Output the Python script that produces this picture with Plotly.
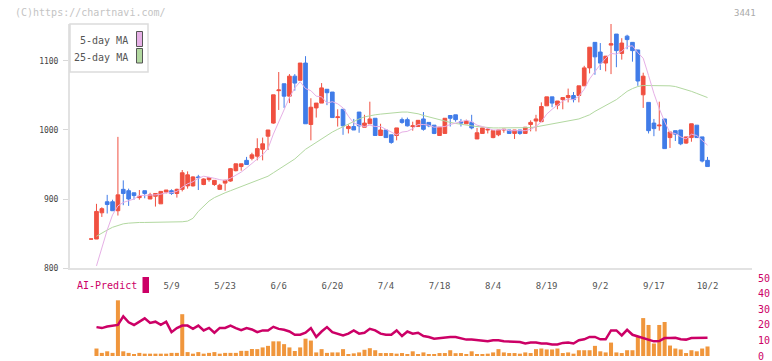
import plotly.graph_objects as go

# ---------------- data ----------------
tick_labels = ["5/9", "5/23", "6/6", "6/20", "7/4", "7/18", "8/4", "8/19", "9/2", "9/17", "10/2"]
tick_index = [15, 25, 35, 45, 55, 65, 75, 85, 95, 105, 115]

opens = [842, 842, 880, 896, 896, 883, 914, 912, 909, 902, 912, 900, 904, 893, 910, 912, 908, 914, 919, 919,
         932, 921, 928, 921, 914, 923, 926, 941, 947, 956, 959, 962, 972, 991, 1010, 1057, 1067, 1049, 1078, 1072,
         1097, 1008, 1032, 1039, 1059, 1055, 1018, 1030, 1002, 1005, 1026, 1004, 1009, 1017, 992, 1000, 993, 992, 1015, 1015,
         1005, 1005, 1016, 1011, 1007, 992, 995, 1021, 1022, 1012, 1009, 1011, 987, 995, 1000, 989, 993, 1000, 1000, 995,
         1000, 995, 1008, 1013, 1012, 1035, 1048, 1036, 1044, 1047, 1050, 1050, 1064, 1090, 1127, 1113, 1097, 1123, 1139, 1111,
         1136, 1127, 1116, 1051, 1040, 1010, 1006, 1016, 989, 999, 1000, 981, 989, 1007, 990, 956]
highs = [842, 893, 888, 906, 899, 990, 927, 915, 909, 913, 912, 909, 908, 911, 913, 914, 915, 942, 940, 933,
         935, 930, 932, 927, 922, 928, 945, 951, 951, 961, 967, 988, 989, 1000, 1051, 1084, 1067, 1081, 1081, 1097,
         1107, 1046, 1039, 1068, 1059, 1055, 1030, 1030, 1008, 1016, 1026, 1022, 1041, 1017, 1009, 1000, 993, 1003, 1018, 1018,
         1012, 1014, 1026, 1011, 1007, 1004, 1017, 1021, 1022, 1016, 1015, 1022, 1003, 1003, 1003, 999, 1000, 1001, 1000, 1000,
         1000, 1004, 1014, 1022, 1040, 1048, 1048, 1042, 1047, 1060, 1055, 1064, 1093, 1120, 1127, 1126, 1107, 1154, 1139, 1133,
         1138, 1127, 1116, 1083, 1040, 1016, 1041, 1016, 997, 999, 1000, 990, 1009, 1007, 990, 961]
lows = [842, 842, 874, 879, 883, 876, 891, 890, 899, 899, 901, 900, 889, 893, 908, 906, 902, 911, 915, 918,
        913, 920, 925, 919, 913, 912, 925, 940, 941, 950, 956, 956, 956, 971, 1009, 1029, 1032, 1039, 1057, 1072,
        1009, 985, 1018, 1039, 1036, 1018, 1005, 993, 995, 1000, 996, 1004, 1009, 992, 992, 989, 980, 985, 1009, 1005,
        999, 1005, 999, 1004, 994, 992, 995, 1005, 1012, 1005, 1009, 1001, 987, 995, 995, 988, 991, 996, 995, 987,
        993, 995, 998, 998, 1012, 1035, 1033, 1030, 1030, 1040, 1040, 1040, 1064, 1082, 1080, 1087, 1085, 1081, 1091, 1102,
        1117, 1099, 1064, 1032, 995, 991, 999, 973, 974, 984, 978, 980, 983, 989, 953, 947]
closes = [842, 882, 886, 892, 883, 906, 908, 900, 905, 904, 908, 906, 908, 911, 913, 908, 914, 938, 935, 932,
          931, 929, 931, 927, 920, 927, 944, 951, 951, 950, 964, 973, 980, 1000, 1051, 1058, 1049, 1078, 1068, 1097,
          1009, 1033, 1039, 1061, 1054, 1018, 1019, 1006, 1005, 1000, 1006, 1010, 1016, 992, 1000, 989, 982, 1003, 1011, 1006,
          1006, 1014, 1001, 1006, 995, 1004, 1017, 1017, 1015, 1010, 1013, 1003, 996, 1003, 1001, 999, 1000, 1001, 995, 1000,
          995, 1004, 1011, 1016, 1034, 1048, 1039, 1042, 1047, 1050, 1044, 1064, 1090, 1120, 1106, 1097, 1107, 1125, 1115, 1126,
          1131, 1115, 1071, 1078, 999, 1002, 1007, 973, 997, 994, 980, 990, 1009, 989, 955, 947]

ma5 = [None, 803, 831, 855, 877, 890, 895, 898, 900, 905, 905, 905, 906, 907, 909, 909, 911, 917, 922, 925,
       930, 933, 932, 930, 928, 927, 930, 934, 939, 945, 952, 958, 964, 973, 994, 1012, 1028, 1047, 1061, 1070,
       1060, 1057, 1049, 1048, 1039, 1041, 1038, 1032, 1020, 1010, 1007, 1005, 1007, 1005, 1005, 1001, 996, 993, 997, 998,
       1002, 1008, 1008, 1007, 1004, 1004, 1005, 1008, 1010, 1013, 1014, 1012, 1007, 1005, 1003, 1000, 1000, 1001, 999, 999,
       998, 999, 1001, 1005, 1012, 1023, 1030, 1036, 1042, 1045, 1044, 1049, 1059, 1074, 1085, 1095, 1104, 1111, 1110, 1114,
       1121, 1122, 1112, 1104, 1079, 1053, 1031, 1012, 996, 995, 990, 987, 994, 992, 985, 978]
ma25 = [None, 846, 851, 855, 859, 862, 864, 865, 866, 866, 866, 866, 866, 866, 866, 867, 867, 867, 868, 872,
        882, 890, 897, 902, 906, 909, 912, 915, 918, 921, 924, 926, 929, 933, 938, 943, 947, 952, 958, 965,
        972, 977, 982, 988, 993, 997, 1001, 1005, 1009, 1013, 1016, 1019, 1021, 1022, 1023, 1024, 1025, 1025.5, 1026, 1026,
        1025, 1023.5, 1021, 1019, 1016, 1014, 1012, 1011, 1009.5, 1008, 1007, 1006, 1005, 1004, 1003.5, 1003, 1003, 1003, 1003, 1003,
        1003, 1003, 1003.5, 1004.5, 1006, 1007.5, 1009, 1010, 1011.5, 1013, 1014.5, 1016, 1019, 1022, 1027, 1031, 1035, 1040, 1044, 1050,
        1056, 1060, 1063, 1064.5, 1064.5, 1064.5, 1064.5, 1064.5, 1064, 1063, 1061, 1058, 1056, 1053, 1050, 1047]

volume = [None, 4.8, 2, 3, 2, 35.7, 3, 2, 1.3, 2, 1.5, 1.5, 1.5, 1.5, 1.5, 2, 2, 26.8, 2.5, 1.5,
          2.5, 1.5, 2, 2.5, 1.5, 2, 2, 2, 3.3, 3.3, 4.5, 4.4, 5.5, 6.5, 9.4, 9.4, 7.6, 5.5, 3.2, 5.5,
          11.1, 9.9, 2.3, 4.4, 2, 2.3, 2.3, 4.4, 1.3, 1.7, 2.3, 4, 5, 3.7, 1.9, 1.9, 1.9, 1.5, 1.9, 1.3,
          3, 1.2, 2.3, 1.2, 1.2, 1.9, 1.9, 3.7, 1.8, 1.9, 1.3, 3, 1.2, 1.2, 1.5, 2.3, 4.4, 2.3, 1.9, 1.9,
          1.5, 2.3, 1.9, 4.4, 4.8, 4.2, 4.2, 4.8, 1.9, 2.3, 1.5, 3.7, 3.7, 3.7, 6.5, 3, 2.3, 8.6, 2.3, 1.9,
          3.7, 3.7, 12.2, 24.3, 19.9, 8, 19.9, 21.8, 6.7, 4.8, 4.2, 1.9, 3.7, 3, 4.8, 6.1]
ai_predict = [None, 18.5, 17.9, 18.9, 19.5, 19.9, 25.4, 21.6, 19.9, 22, 24.1, 21.2, 22, 20, 22, 15.3, 17.9, 19.5, 19.5, 17.4,
              19.5, 16.4, 18, 14.9, 18, 18, 19.5, 17.9, 16.6, 17.9, 17, 15.3, 16.4, 16.4, 18.7, 17.4, 16.8, 15.7, 13.6, 13.6,
              14.9, 17.9, 12.2, 15.7, 18.5, 15.3, 14.3, 13.2, 14.3, 16.4, 14.3, 14.9, 17.4, 16.4, 14.3, 13.6, 13.6, 16.4, 12.8, 15.7,
              14.3, 14.9, 12.8, 12.2, 11.1, 11.5, 11.7, 12.2, 12.2, 11.5, 10.5, 10.5, 10.1, 9.4, 9.4, 10.1, 10.1, 9.4, 9.4, 9,
              9, 8, 8.6, 8.6, 8, 8, 7.4, 7.4, 8.4, 8.6, 8, 10.1, 10.7, 12.2, 12.2, 10.7, 10.7, 16.4, 16.4, 13.2,
              16.8, 13.6, 12.6, 11.7, 10.5, 9.4, 9.6, 11.5, 11.5, 11.7, 10.7, 10.5, 11.5, 11.7, 11.7, 11.7]

index = list(range(len(closes)))

# ---------------- styling ----------------
RED = "#f05040"
BLUE = "#407ce8"
PINK = "#e6b0e6"
GREEN = "#b2d8a0"
ORANGE = "#f0963c"
MAGENTA = "#cc0066"
MONO = "DejaVu Sans Mono"
AXIS = "#e2e2e2"

W, H = 772, 361
L, R, T, B = 70, 20, 24, 5
PW, PH = W - L - R, H - T - B


def px(x):
    return (x - L) / PW


def py(y):
    return (H - B - y) / PH


fig = go.Figure()

fig.add_trace(go.Candlestick(
    x=index, open=opens, high=highs, low=lows, close=closes,
    increasing=dict(line=dict(color=RED, width=1), fillcolor=RED),
    decreasing=dict(line=dict(color=BLUE, width=1), fillcolor=BLUE),
    whiskerwidth=0, showlegend=False, hoverinfo="skip", xaxis="x", yaxis="y"))
fig.add_trace(go.Scatter(x=index, y=ma25, mode="lines", line=dict(color=GREEN, width=1),
                         showlegend=False, hoverinfo="skip", xaxis="x", yaxis="y"))
fig.add_trace(go.Scatter(x=index, y=ma5, mode="lines", line=dict(color=PINK, width=1),
                         showlegend=False, hoverinfo="skip", xaxis="x", yaxis="y"))

fig.add_trace(go.Bar(x=index, y=volume, marker=dict(color=ORANGE, line=dict(width=0)), width=0.75,
                     showlegend=False, hoverinfo="skip", xaxis="x2", yaxis="y2"))
fig.add_trace(go.Scatter(x=index, y=ai_predict, mode="lines", line=dict(color=MAGENTA, width=2.5),
                         showlegend=False, hoverinfo="skip", xaxis="x2", yaxis="y2"))

xr = [-3.94, 123.3]
main_bottom = py(268)
sub_top = py(278)

fig.update_layout(
    width=W, height=H, margin=dict(l=L, r=R, t=T, b=B, autoexpand=False),
    paper_bgcolor="white", plot_bgcolor="white",
    font=dict(family=MONO, size=9, color="#555"),
    showlegend=False, boxgap=0.02,
    xaxis=dict(domain=[0, 1], range=xr, anchor="y", showline=True, linecolor=AXIS, linewidth=2,
               tickvals=tick_index, ticktext=tick_labels, ticks="outside", ticklen=8,
               tickcolor="rgba(0,0,0,0)", tickfont=dict(family=MONO, size=9, color="#555"),
               showgrid=False, zeroline=False, rangeslider=dict(visible=False), fixedrange=True,
               automargin=False),
    xaxis3=dict(overlaying="x", anchor="y", range=[0, 11], tickvals=list(range(12)),
                ticks="outside", ticklen=5, tickwidth=2, tickcolor=AXIS, showticklabels=False,
                showgrid=False, showline=False, zeroline=False, automargin=False),
    yaxis=dict(domain=[main_bottom, 1], range=[800, 1153.6], tickvals=[800, 900, 1000, 1100],
               showline=True, linecolor=AXIS, linewidth=2, ticks="outside", ticklen=5, tickwidth=1,
               tickcolor="#d8d8d8", tickfont=dict(family=MONO, size=8, color="#444"),
               ticklabelstandoff=3,
               showgrid=False, zeroline=False, fixedrange=True, automargin=False),
    xaxis2=dict(domain=[0, 1], range=xr, anchor="y2", visible=False, automargin=False),
    yaxis2=dict(domain=[0, sub_top], range=[0, 50], anchor="x2", side="right",
                tickvals=[0, 10, 20, 30, 40, 50], showline=False, showgrid=False, zeroline=False,
                ticks="outside", ticklen=3, tickcolor="rgba(0,0,0,0)", ticklabeloverflow="allow",
                tickfont=dict(family=MONO, size=10, color=MAGENTA), automargin=False),
)

# legend box (drawn manually: text left of swatch as in the reference)
shapes = [
    dict(type="rect", xref="paper", yref="paper", x0=px(70), x1=px(148), y0=py(72), y1=py(24),
         line=dict(color="#dcdcdc", width=1.5), fillcolor="white", layer="above"),
    dict(type="rect", xref="paper", yref="paper", x0=px(136.5), x1=px(142.5), y0=py(46.5), y1=py(31.5),
         line=dict(color="#555", width=1), fillcolor=PINK, layer="above"),
    dict(type="rect", xref="paper", yref="paper", x0=px(136.5), x1=px(142.5), y0=py(63), y1=py(48.5),
         line=dict(color="#555", width=1), fillcolor=GREEN, layer="above"),
    dict(type="rect", xref="paper", yref="paper", x0=px(142.5), x1=px(149), y0=py(293), y1=py(277),
         line=dict(width=0), fillcolor=MAGENTA),
]
annotations = [
    dict(text="5-day MA", xref="paper", yref="paper", x=px(130), y=py(40.5), xanchor="right", yanchor="middle",
         showarrow=False, font=dict(family=MONO, size=10, color="#555")),
    dict(text="25-day MA", xref="paper", yref="paper", x=px(130), y=py(57), xanchor="right", yanchor="middle",
         showarrow=False, font=dict(family=MONO, size=10, color="#555")),
    dict(text="AI-Predict", xref="paper", yref="paper", x=px(75), y=py(285.5), xanchor="left", yanchor="middle",
         showarrow=False, font=dict(family=MONO, size=10, color=MAGENTA)),
    dict(text="(C)https://chartnavi.com/", xref="paper", yref="paper", x=px(13), y=py(12.5), xanchor="left",
         yanchor="middle", showarrow=False, font=dict(family=MONO, size=10, color="#c4c4c4")),
    dict(text="3441", xref="paper", yref="paper", x=px(758), y=py(12.5), xanchor="right",
         yanchor="middle", showarrow=False, font=dict(family=MONO, size=9, color="#aaaaaa")),
]
fig.update_layout(shapes=shapes, annotations=annotations)

fig.write_html("out.html", config={"displayModeBar": False},
               post_script="document.body.style.margin='0px';document.body.style.overflow='hidden';")
